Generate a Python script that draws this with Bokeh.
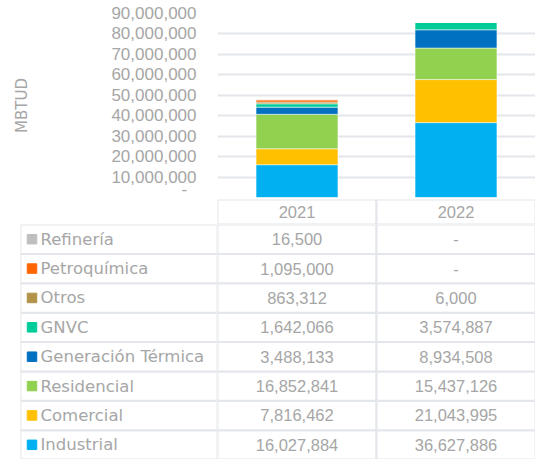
from bokeh.plotting import figure
from bokeh.models import ColumnDataSource, FactorRange, Range1d, FixedTicker, CustomJSTickFormatter
from bokeh.transform import dodge
from bokeh.layouts import column, row
from bokeh.core.properties import value
from bokeh.embed import file_html
from bokeh.resources import INLINE

# ---------------- data ----------------
years = ["2021", "2022"]
sectors = ["Industrial", "Comercial", "Residencial", "Generación Térmica",
           "GNVC", "Otros", "Petroquímica", "Refinería"]          # bottom -> top of stack
values_2021 = [16027884, 7816462, 16852841, 3488133, 1642066, 863312, 1095000, 16500]
values_2022 = [36627886, 21043995, 15437126, 8934508, 3574887, 6000, 0, 0]
sector_colors = ["#00b0f0", "#ffc000", "#92d050", "#0070c0",
                 "#00cc99", "#b3934a", "#ff6600", "#bfbfbf"]
y_ticks = [0, 10000000, 20000000, 30000000, 40000000, 50000000,
           60000000, 70000000, 80000000, 90000000]
y_label = "MBTUD"
header_key = "año"
label_col = "Sector"

# ---------------- style ----------------
LBL_FONT = "DejaVu Sans"
NUM_FONT = "Liberation Sans"
TXT = "#a6a6a6"
LINE = "#e3e6ea"
W = 535
BAR_H = 198
HDR_H = 26
BODY_H = 459 - BAR_H - HDR_H
FRAME_LEFT = 217
LAB_FRAME_LEFT = 20
LAB_COL_PX = FRAME_LEFT - LAB_FRAME_LEFT


def base_fig(**kw):
    f = figure(output_backend="svg", toolbar_location=None, tools="", **kw)
    f.outline_line_color = None
    f.background_fill_color = "white"
    f.border_fill_color = "white"
    return f


# ---------------- bar chart ----------------
x_range = FactorRange(factors=years)
bar_data = {"year": years}
for i, s in enumerate(sectors):
    bar_data[s] = [values_2021[i], values_2022[i]]
bar_src = ColumnDataSource(bar_data)

p = base_fig(width=W, height=BAR_H, x_range=x_range, y_range=Range1d(0, y_ticks[-1]),
             x_axis_location=None, y_axis_location="left",
             min_border_left=FRAME_LEFT, min_border_right=0,
             min_border_top=13, min_border_bottom=1)

p.vbar_stack(sectors, x="year", width=0.515, fill_color=sector_colors,
             line_color="white", line_width=0.5, source=bar_src)

p.xgrid.visible = False
p.ygrid.ticker = FixedTicker(ticks=[t for t in y_ticks if t > 0])
p.ygrid.grid_line_color = LINE
p.ygrid.grid_line_width = 2

ax = p.yaxis[0]
ax.ticker = FixedTicker(ticks=y_ticks)
ax.formatter = CustomJSTickFormatter(
    code="return tick == 0 ? '-\u00a0\u00a0' : Math.round(tick).toLocaleString('en-US');")
ax.axis_line_color = None
ax.major_tick_line_color = None
ax.minor_tick_line_color = None
ax.major_tick_out = 0
ax.major_label_standoff = 21
ax.major_label_text_font = NUM_FONT
ax.major_label_text_font_size = "17px"
ax.major_label_text_color = TXT
ax.axis_label = y_label
ax.axis_label_text_font = LBL_FONT
ax.axis_label_text_font_size = "15px"
ax.axis_label_text_font_style = "normal"
ax.axis_label_text_color = TXT
ax.axis_label_standoff = 77

# ---------------- table header ----------------
hdr_src = ColumnDataSource(dict(x=years, y=[header_key] * len(years), text=years))
hd = base_fig(width=W, height=HDR_H, x_range=x_range, y_range=FactorRange(factors=[header_key]),
              x_axis_location=None, y_axis_location=None,
              min_border_left=FRAME_LEFT, min_border_right=0,
              min_border_top=1, min_border_bottom=0)
hd.grid.visible = False
hd.rect(x="x", y="y", width=1, height=1, fill_color="white",
        line_color=LINE, line_width=2, source=hdr_src)
hd.text(x="x", y="y", text="text", text_align="center", text_baseline="middle",
        text_font=value(NUM_FONT), text_font_size=value("16.5px"), text_color=TXT,
        source=hdr_src)

# ---------------- table body ----------------
y_range = FactorRange(factors=sectors)      # bottom -> top


def fmt(v):
    return f"{v:,}" if v else "-"


cx, cy, ct = [], [], []
for yi, yr in enumerate(years):
    vals = values_2021 if yi == 0 else values_2022
    for i, s in enumerate(sectors):
        cx.append(yr); cy.append(s); ct.append(fmt(vals[i]))
cell_src = ColumnDataSource(dict(x=cx, y=cy, text=ct))

tv = base_fig(width=W - FRAME_LEFT, height=BODY_H, x_range=x_range, y_range=y_range,
              x_axis_location=None, y_axis_location=None,
              min_border_left=0, min_border_right=0,
              min_border_top=0, min_border_bottom=0)
tv.grid.visible = False
tv.rect(x="x", y="y", width=1, height=1, fill_color="white",
        line_color=LINE, line_width=2, source=cell_src)
tv.text(x="x", y="y", text="text", text_align="center", text_baseline="middle",
        text_font=value(NUM_FONT), text_font_size=value("16.5px"), text_color=TXT,
        source=cell_src)

lab_x = FactorRange(factors=[label_col])
lab_src = ColumnDataSource(dict(col=[label_col] * len(sectors), row=sectors,
                                color=sector_colors))
tl = base_fig(width=FRAME_LEFT, height=BODY_H, x_range=lab_x, y_range=y_range,
              x_axis_location=None, y_axis_location=None,
              min_border_left=LAB_FRAME_LEFT, min_border_right=0,
              min_border_top=0, min_border_bottom=0)
tl.grid.visible = False
tl.rect(x="col", y="row", width=1, height=1, fill_color="white",
        line_color=LINE, line_width=2, source=lab_src)
tl.scatter(x=dodge("col", -0.5 + 11.5 / LAB_COL_PX, range=lab_x), y="row",
           marker="square", size=9.5, fill_color="color", line_color="color",
           source=lab_src)
tl.text(x=dodge("col", -0.5 + 20.0 / LAB_COL_PX, range=lab_x), y="row", text="row",
        text_align="left", text_baseline="middle",
        text_font=value(LBL_FONT), text_font_size=value("16.5px"), text_color=TXT,
        source=lab_src)

layout = column(p, hd, row(tl, tv))
open("out.html", "w").write(file_html(layout, INLINE))
